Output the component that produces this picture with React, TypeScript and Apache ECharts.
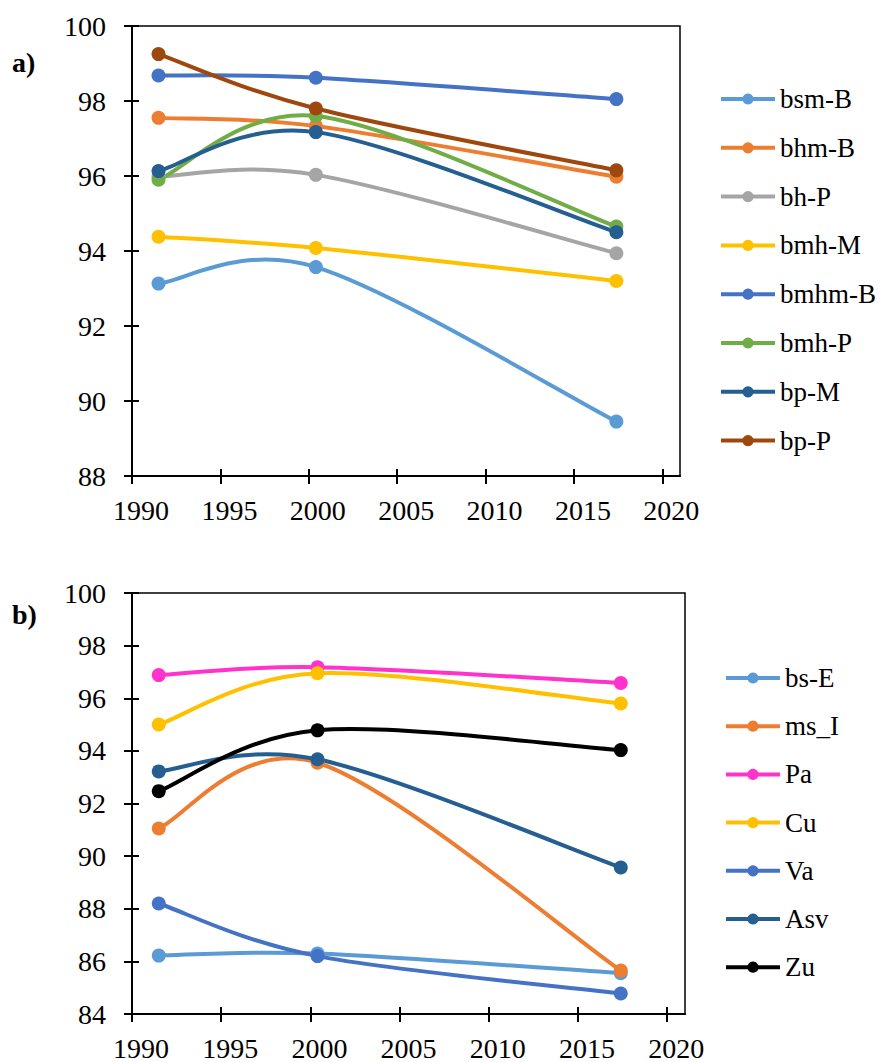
import React, { useEffect, useRef } from "react";
import * as echarts from "echarts";

const years = [1991.5, 2000.4, 2017.4];
const xTicks = [1990, 1995, 2000, 2005, 2010, 2015, 2020];

// Panel a)
const namesA = ["bsm-B", "bhm-B", "bh-P", "bmh-M", "bmhm-B", "bmh-P", "bp-M", "bp-P"];
const colorsA = ["#5B9BD5", "#ED7D31", "#A5A5A5", "#FFC000", "#4472C4", "#70AD47", "#255E91", "#9E480E"];
const bsmB = [93.13, 93.57, 89.45];
const bhmB = [97.55, 97.33, 95.98];
const bhP = [95.98, 96.03, 93.94];
const bmhM = [94.38, 94.08, 93.2];
const bmhmB = [98.68, 98.62, 98.05];
const bmhP = [95.9, 97.6, 94.65];
const bpM = [96.13, 97.17, 94.5];
const bpP = [99.25, 97.8, 96.15];
const valuesA = [bsmB, bhmB, bhP, bmhM, bmhmB, bmhP, bpM, bpP];
const yTicksA = [88, 90, 92, 94, 96, 98, 100];

// Panel b)
const namesB = ["bs-E", "ms_I", "Pa", "Cu", "Va", "Asv", "Zu"];
const colorsB = ["#5B9BD5", "#ED7D31", "#FF33CC", "#FFC000", "#4472C4", "#255E91", "#000000"];
const bsE = [86.22, 86.3, 85.55];
const msI = [91.05, 93.55, 85.65];
const Pa = [96.88, 97.18, 96.58];
const Cu = [95.0, 96.95, 95.8];
const Va = [88.2, 86.2, 84.78];
const Asv = [93.22, 93.68, 89.57];
const Zu = [92.47, 94.78, 94.03];
const valuesB = [bsE, msI, Pa, Cu, Va, Asv, Zu];
const yTicksB = [84, 86, 88, 90, 92, 94, 96, 98, 100];

const FONT = "Liberation Serif";
const FS = 28;
const LFS = 27;

function xAxes(gridIndex: number) {
  const base = {
    type: "value",
    gridIndex,
    min: 1990,
    max: 2021,
    interval: 5,
    position: "bottom",
    splitLine: { show: false },
  };
  return [
    {
      ...base,
      axisLine: { show: true, onZero: false, lineStyle: { color: "#000", width: 2 } },
      axisTick: { show: true, length: 8, customValues: xTicks, lineStyle: { color: "#000", width: 2 } },
      axisLabel: {
        show: true,
        customValues: xTicks,
        formatter: (v: number) => String(v),
        fontFamily: FONT,
        fontSize: FS,
        color: "#000",
        margin: 20,
        padding: [0, 0, 0, 18],
      },
    },
    {
      ...base,
      axisLine: { show: false, onZero: false },
      axisTick: { show: true, inside: true, length: 7, customValues: xTicks, lineStyle: { color: "#000", width: 2 } },
      axisLabel: { show: false },
    },
  ];
}

function yAxes(gridIndex: number, ticks: number[]) {
  const base = {
    type: "value",
    gridIndex,
    min: ticks[0],
    max: ticks[ticks.length - 1],
    interval: 2,
    position: "left",
    splitLine: { show: false },
  };
  return [
    {
      ...base,
      axisLine: { show: true, onZero: false, lineStyle: { color: "#000", width: 2 } },
      axisTick: { show: true, length: 8, lineStyle: { color: "#000", width: 2 } },
      axisLabel: { show: true, fontFamily: FONT, fontSize: FS, color: "#000", margin: 26 },
    },
    {
      ...base,
      axisLine: { show: false, onZero: false },
      axisTick: { show: true, inside: true, length: 7, lineStyle: { color: "#000", width: 2 } },
      axisLabel: { show: false },
    },
  ];
}

// Excel-style smoothed line (cubic Bezier, tension 1/6) drawn through the axis scales
function curveSeries(name: string, color: string, vals: number[], axisIdx: number) {
  const pts = vals.map((v, j) => [years[j], v]);
  return {
    name: name + " curve",
    type: "custom",
    xAxisIndex: axisIdx,
    yAxisIndex: axisIdx,
    silent: true,
    data: pts,
    renderItem: (params: any, api: any) => {
      const i = params.dataIndex;
      if (i >= pts.length - 1) return null;
      const P = pts.map((p) => api.coord(p));
      const p0 = P[Math.max(i - 1, 0)];
      const p1 = P[i];
      const p2 = P[i + 1];
      const p3 = P[Math.min(i + 2, P.length - 1)];
      return {
        type: "bezierCurve",
        shape: {
          x1: p1[0],
          y1: p1[1],
          cpx1: p1[0] + (p2[0] - p0[0]) / 6,
          cpy1: p1[1] + (p2[1] - p0[1]) / 6,
          cpx2: p2[0] - (p3[0] - p1[0]) / 6,
          cpy2: p2[1] - (p3[1] - p1[1]) / 6,
          x2: p2[0],
          y2: p2[1],
        },
        style: { stroke: color, lineWidth: 4, fill: "none", lineCap: "round" },
      };
    },
  };
}

function makeSeries(names: string[], colors: string[], values: number[][], idx: number) {
  const out: any[] = [];
  names.forEach((n, i) => {
    out.push(curveSeries(n, colors[i], values[i], idx * 2));
    out.push({
      name: n,
      type: "line",
      xAxisIndex: idx * 2,
      yAxisIndex: idx * 2,
      symbol: "circle",
      symbolSize: 14,
      color: colors[i],
      lineStyle: { width: 4, color: colors[i], opacity: 0 },
      itemStyle: { color: colors[i] },
      data: values[i].map((v, j) => [years[j], v]),
    });
  });
  return out;
}

export default function App() {
  const ref = useRef<HTMLDivElement>(null);
  useEffect(() => {
    document.body.style.margin = "0";
    const chart = echarts.init(ref.current!, null, { renderer: "svg" });
    const legendBase = {
      orient: "vertical",
      itemWidth: 54,
      itemHeight: 14,
      textStyle: { fontFamily: FONT, fontSize: LFS, color: "#000", lineHeight: 30 },
      lineStyle: { opacity: 1, width: 4 },
      selectedMode: false,
      padding: 0,
    };
    chart.setOption({
      animation: false,
      backgroundColor: "#fff",
      grid: [
        { left: 132, top: 26, width: 548, height: 450, show: true, borderColor: "#000", borderWidth: 1.5, containLabel: false },
        { left: 132, top: 593, width: 553, height: 421, show: true, borderColor: "#000", borderWidth: 1.5, containLabel: false },
      ],
      xAxis: [...xAxes(0), ...xAxes(1)],
      yAxis: [...yAxes(0, yTicksA), ...yAxes(1, yTicksB)],
      legend: [
        { ...legendBase, data: namesA, left: 719, top: 84, itemGap: 18.8 },
        { ...legendBase, data: namesB, left: 724, top: 663, itemGap: 18.2 },
      ],
      graphic: [
        { type: "text", left: 12, top: 48, style: { text: "a)", font: `bold ${FS}px "${FONT}"`, fill: "#000" } },
        { type: "text", left: 12, top: 600, style: { text: "b)", font: `bold ${FS}px "${FONT}"`, fill: "#000" } },
      ],
      series: [...makeSeries(namesA, colorsA, valuesA, 0), ...makeSeries(namesB, colorsB, valuesB, 1)],
    });
    return () => chart.dispose();
  }, []);
  return <div ref={ref} style={{ width: 883, height: 1062 }} />;
}
